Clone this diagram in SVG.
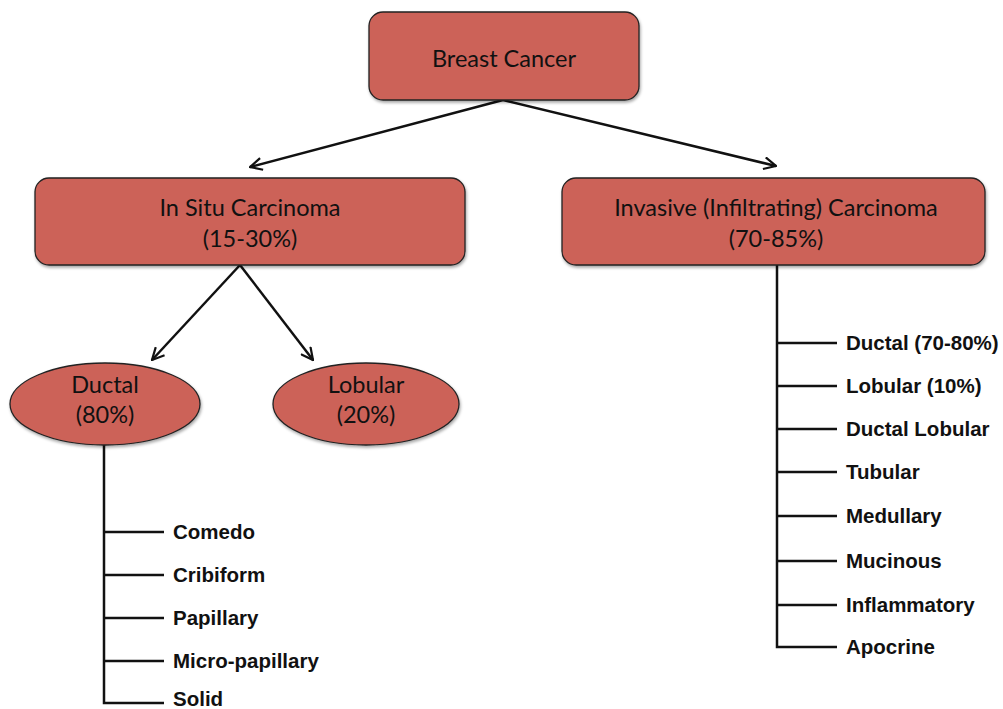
<svg xmlns="http://www.w3.org/2000/svg" width="1003" height="709" viewBox="0 0 1003 709">
<style>
.node{fill:#CC6259;stroke:#222;stroke-width:1.3}
.t{font-family:Lato,"Open Sans",sans-serif;font-size:23.5px;fill:#111;text-anchor:middle}
.l{font-family:"Liberation Sans",Arial,sans-serif;font-size:20.5px;font-weight:bold;fill:#111}
.c{fill:none;stroke:#111;stroke-width:2.5}
.tr{fill:none;stroke:#111;stroke-width:2.5}
</style>
<defs>
<marker id="arr" viewBox="0 0 14 14" refX="13" refY="7" markerWidth="14" markerHeight="14" markerUnits="userSpaceOnUse" orient="auto">
<path d="M1,1 L13,7 L1,13" fill="none" stroke="#111" stroke-width="2.2"/>
</marker>
<filter id="sh" x="-5%" y="-5%" width="110%" height="115%">
<feDropShadow dx="1" dy="2" stdDeviation="1.5" flood-color="#000" flood-opacity="0.35"/>
</filter>
</defs>
<rect width="1003" height="709" fill="#fff"/>
<g id="connectors">
<path class="c" d="M503,100 L250,167" marker-end="url(#arr)"/>
<path class="c" d="M503,100 L776,166" marker-end="url(#arr)"/>
<path class="c" d="M240,265 L152,360" marker-end="url(#arr)"/>
<path class="c" d="M240,265 L313,360" marker-end="url(#arr)"/>
<path class="tr" d="M104,445 V703 H164 M104,532 H164 M104,575 H164 M104,618 H164 M104,661 H164"/>
<path class="tr" d="M777,265 V647 H837 M777,343 H837 M777,386 H837 M777,429 H837 M777,472 H837 M777,516 H837 M777,561 H837 M777,605 H837"/>
</g>
<g id="breast-cancer">
<rect class="node" filter="url(#sh)" x="369" y="12" width="270" height="88" rx="14"/>
<text class="t" x="504" y="67">Breast Cancer</text>
</g>
<g id="in-situ">
<rect class="node" filter="url(#sh)" x="35" y="178" width="430" height="87" rx="14"/>
<text class="t" x="250" y="216">In Situ Carcinoma</text>
<text class="t" x="250" y="247">(15-30%)</text>
</g>
<g id="invasive">
<rect class="node" filter="url(#sh)" x="562" y="178" width="423" height="87" rx="14"/>
<text class="t" x="776" y="216">Invasive (Infiltrating) Carcinoma</text>
<text class="t" x="776" y="247">(70-85%)</text>
</g>
<g id="ductal">
<ellipse class="node" filter="url(#sh)" cx="105" cy="404" rx="95" ry="41"/>
<text class="t" x="105" y="393">Ductal</text>
<text class="t" x="105" y="423">(80%)</text>
</g>
<g id="lobular">
<ellipse class="node" filter="url(#sh)" cx="366" cy="404" rx="93" ry="41"/>
<text class="t" x="366" y="393">Lobular</text>
<text class="t" x="366" y="423">(20%)</text>
</g>
<g id="ductal-types">
<text class="l" x="173" y="539">Comedo</text>
<text class="l" x="173" y="582">Cribiform</text>
<text class="l" x="173" y="625">Papillary</text>
<text class="l" x="173" y="668">Micro-papillary</text>
<text class="l" x="173" y="706">Solid</text>
</g>
<g id="invasive-types">
<text class="l" x="846" y="350">Ductal (70-80%)</text>
<text class="l" x="846" y="393">Lobular (10%)</text>
<text class="l" x="846" y="436">Ductal Lobular</text>
<text class="l" x="846" y="479">Tubular</text>
<text class="l" x="846" y="523">Medullary</text>
<text class="l" x="846" y="568">Mucinous</text>
<text class="l" x="846" y="612">Inflammatory</text>
<text class="l" x="846" y="654">Apocrine</text>
</g>
</svg>
